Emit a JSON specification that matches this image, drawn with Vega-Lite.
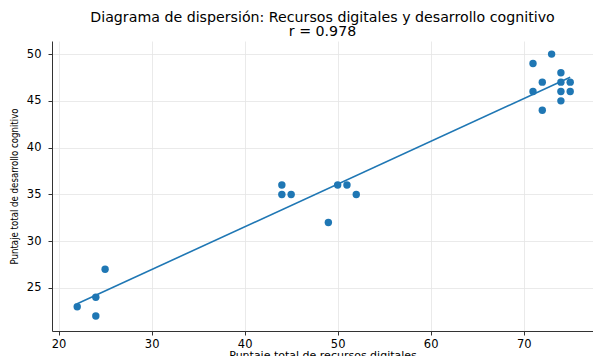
{
  "$schema": "https://vega.github.io/schema/vega-lite/v6.json",
  "autosize": {"type": "none"},
  "padding": {"left": 52, "top": 41, "right": 0, "bottom": 25},
  "width": 541,
  "height": 290,
  "background": "white",
  "title": {
    "text": ["Diagrama de dispersión: Recursos digitales y desarrollo cognitivo", "r = 0.978"],
    "font": "DejaVu Sans",
    "fontSize": 14.2,
    "fontWeight": "normal",
    "color": "black",
    "lineHeight": 14,
    "anchor": "middle",
    "offset": 2
  },
  "config": {
    "view": {"stroke": null},
    "axis": {
      "labelFont": "DejaVu Sans",
      "labelFontSize": 11.5,
      "labelColor": "black",
      "titleFont": "DejaVu Sans",
      "titleFontWeight": "normal",
      "titleColor": "black",
      "domainColor": "#333",
      "domainWidth": 1,
      "tickColor": "#333",
      "tickSize": 4,
      "gridColor": "#e5e5e5",
      "gridWidth": 0.8
    }
  },
  "data": {
    "values": [
      {"x": 73, "y": 50}, {"x": 71, "y": 49}, {"x": 74, "y": 48}, {"x": 72, "y": 47},
      {"x": 74, "y": 47}, {"x": 75, "y": 47}, {"x": 71, "y": 46}, {"x": 74, "y": 46},
      {"x": 75, "y": 46}, {"x": 74, "y": 45}, {"x": 72, "y": 44},
      {"x": 44, "y": 36}, {"x": 44, "y": 35}, {"x": 45, "y": 35}, {"x": 50, "y": 36},
      {"x": 51, "y": 36}, {"x": 52, "y": 35}, {"x": 49, "y": 32},
      {"x": 25, "y": 27}, {"x": 24, "y": 24}, {"x": 22, "y": 23}, {"x": 24, "y": 22}
    ]
  },
  "layer": [
    {
      "mark": {"type": "circle", "size": 55, "color": "#1f77b4", "opacity": 1},
      "encoding": {
        "x": {
          "field": "x", "type": "quantitative",
          "scale": {"domain": [19.29, 77.45], "nice": false, "zero": false},
          "axis": {"values": [20, 30, 40, 50, 60, 70], "title": "Puntaje total de recursos digitales", "titleFontSize": 11, "titlePadding": 0, "labelPadding": 3}
        },
        "y": {
          "field": "y", "type": "quantitative",
          "scale": {"domain": [20.4, 51.4], "nice": false, "zero": false},
          "axis": {"values": [25, 30, 35, 40, 45, 50], "title": "Puntaje total de desarrollo cognitivo", "titleFont": "Liberation Sans Narrow, DejaVu Sans Condensed, sans-serif", "titleFontSize": 9.6, "titlePadding": 7, "labelPadding": 7}
        }
      }
    },
    {
      "transform": [{"regression": "y", "on": "x", "extent": [22, 75]}],
      "mark": {"type": "line", "color": "#1f77b4", "strokeWidth": 1.6},
      "encoding": {
        "x": {"field": "x", "type": "quantitative"},
        "y": {"field": "y", "type": "quantitative"}
      }
    }
  ]
}
